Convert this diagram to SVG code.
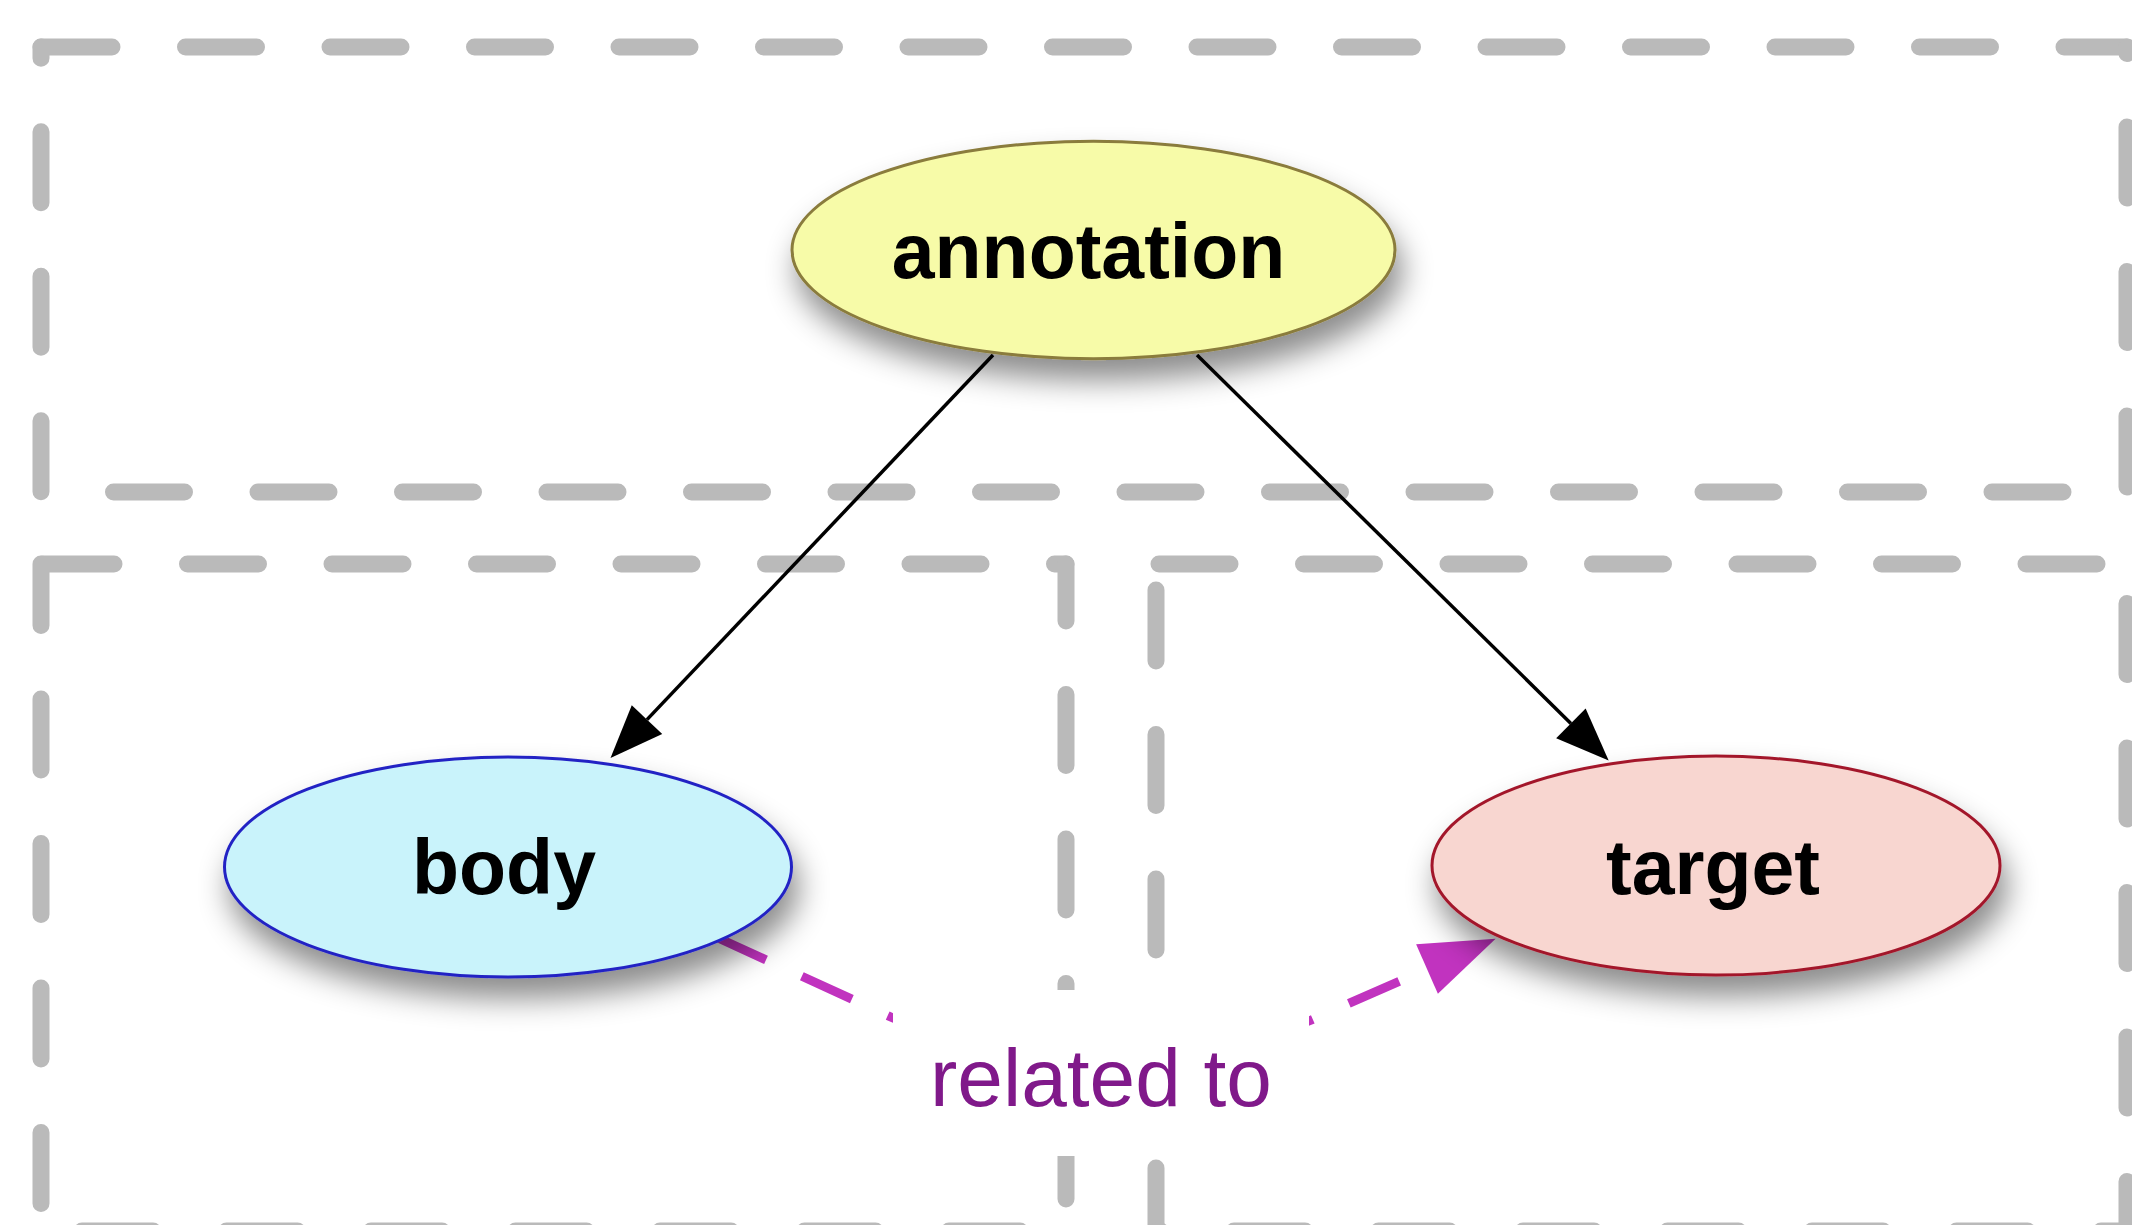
<svg xmlns="http://www.w3.org/2000/svg" width="2132" height="1225" viewBox="0 0 2132 1225">
<style>
.cl{fill:none;stroke:#bababa;stroke-width:17;stroke-linecap:round;stroke-dasharray:71 73.5}
.edge{fill:none;stroke:#000;stroke-width:3.5}
.rel{fill:none;stroke:#c133bf;stroke-width:9;stroke-dasharray:55 39.4}
.lbl{font-family:"Liberation Sans",Arial,sans-serif;font-weight:bold;font-size:77px;text-anchor:middle;fill:#000}
.elbl{font-family:"Liberation Sans",Arial,sans-serif;font-size:82px;text-anchor:middle;fill:#80198a}
.node{stroke-width:3;filter:url(#sh)}
</style>
<defs>
<marker id="ab" markerUnits="userSpaceOnUse" orient="auto" refX="0" refY="0" markerWidth="60" markerHeight="50" viewBox="0 -25 60 50" overflow="visible">
<path d="M0,-21 L53,0 L0,21 z" fill="#000"/>
</marker>
<marker id="ap" markerUnits="userSpaceOnUse" orient="auto" refX="0" refY="0" markerWidth="80" markerHeight="60" viewBox="0 -30 80 60" overflow="visible">
<path d="M0,-27 L75,0 L0,27 z" fill="#c133bf"/>
</marker>
<filter id="sh" x="-30%" y="-40%" width="160%" height="200%">
<feDropShadow dx="6" dy="20" stdDeviation="15" flood-color="#000" flood-opacity="0.45"/>
</filter>
</defs>
<rect width="2132" height="1225" fill="#fff"/>
<g id="clusters">
<g id="cluster-annotation">
<line class="cl" x1="41" y1="47" x2="2127" y2="47" stroke-dashoffset="0"/>
<line class="cl" x1="2127" y1="47" x2="2127" y2="492" stroke-dashoffset="64.5"/>
<line class="cl" x1="41" y1="492" x2="2127" y2="492" stroke-dashoffset="72"/>
<line class="cl" x1="41" y1="47" x2="41" y2="492" stroke-dashoffset="59.8"/>
</g>
<g id="cluster-body">
<line class="cl" x1="41" y1="564" x2="1066" y2="564" stroke-dashoffset="142.5"/>
<line class="cl" x1="1066" y1="564" x2="1066" y2="1231" stroke-dashoffset="14"/>
<line class="cl" x1="41" y1="564" x2="41" y2="1231" stroke-dashoffset="9.5"/>
<line class="cl" x1="41" y1="1231" x2="1066" y2="1231" stroke-dashoffset="103.5"/>
</g>
<g id="cluster-target">
<line class="cl" x1="1156" y1="564" x2="2127" y2="564" stroke-dashoffset="141.5"/>
<line class="cl" x1="1156" y1="564" x2="1156" y2="1231" stroke-dashoffset="118.5"/>
<line class="cl" x1="1156" y1="1231" x2="2127" y2="1231" stroke-dashoffset="66.5"/>
<line class="cl" x1="2127" y1="564" x2="2127" y2="1231" stroke-dashoffset="105"/>
</g>
</g>
<g id="connectors">
<path id="e-annotation-body" class="edge" d="M993,355 L647,719.6" marker-end="url(#ab)"/>
<path id="e-annotation-target" class="edge" d="M1197,355 L1570.9,723.4" marker-end="url(#ab)"/>
<path id="e-body-target" class="rel" d="M716,937 L893,1018 C980,1058 1220,1060 1309,1021 L1427,969" marker-end="url(#ap)"/>
<g id="label-related">
<rect x="893" y="990" width="416" height="166" fill="#fff"/>
<text class="elbl" x="1101" y="1106">related to</text>
</g>
</g>
<g id="node-annotation">
<ellipse class="node" cx="1093.5" cy="250" rx="301.5" ry="108.7" fill="#f7fba8" stroke="#8a7b3c"/>
<text class="lbl" x="1088.5" y="278">annotation</text>
</g>
<g id="node-body">
<ellipse class="node" cx="508" cy="867" rx="283.5" ry="110" fill="#c9f3fb" stroke="#2424c4"/>
<text class="lbl" x="504" y="894">body</text>
</g>
<g id="node-target">
<ellipse class="node" cx="1716" cy="865.5" rx="284" ry="109.5" fill="#f8d6d0" stroke="#a3192c"/>
<text class="lbl" x="1713" y="894">target</text>
</g>
</svg>
